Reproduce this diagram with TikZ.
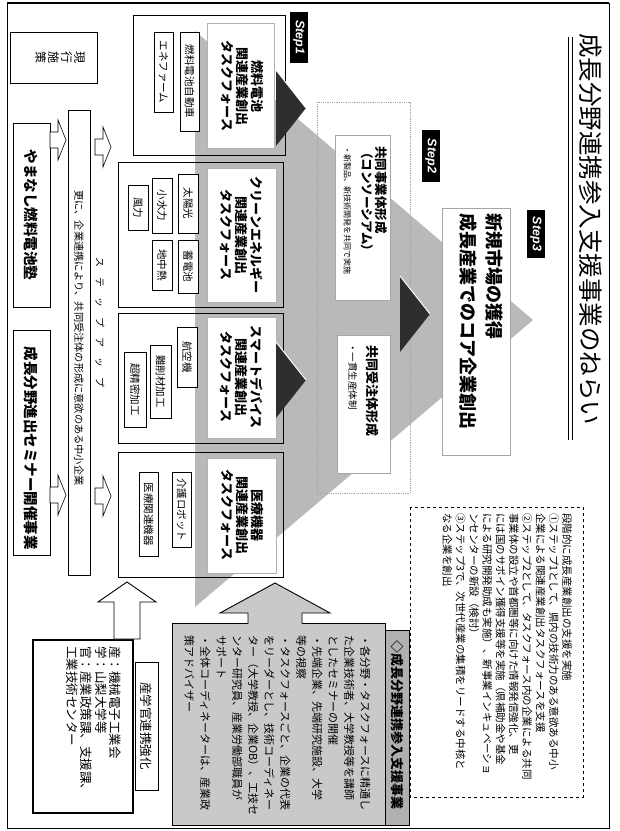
\documentclass[tikz,border=0pt]{standalone}
\usepackage{fontspec}
\setmainfont{Noto Sans CJK JP}
\newfontfamily\stepfont{Liberation Sans}
\newcommand{\fz}[2]{\fontsize{#1}{#2}\selectfont}
\newcommand{\ibox}[6]{%
  \draw[itembox] (#2,#3) rectangle (#4,#5);
  \node[rt,font=\fz{10.5}{11}] (#1) at ({(#2+#4)/2},{(#3+#5)/2}) {#6};}
\newcommand{\sarrow}[4]{%
  \draw[smallarrow] (#2,#4-8) -- (#2+8,#4-8) -- (#2+8,#4-20) -- (#3,#4) -- (#2+8,#4+20) -- (#2+8,#4+8) -- (#2,#4+8) -- cycle;
  \coordinate (#1) at (#3,#4);}
\newcommand{\mini}[4]{%
  \fill[minitri] (#2,#3-38) -- (#2+30,#3) -- (#2,#3+38) -- cycle;
  \draw[miniedge] (#2,#3-38) -- (#2+30,#3);
  \coordinate (#1) at (#2+30,#3);}
\begin{document}
\begin{tikzpicture}[x=1pt,y=-1pt,
  rt/.style={rotate=-90,inner sep=0pt,outer sep=0pt},
  tfouter/.style={draw=black,line width=0.7pt},
  tfinner/.style={fill=white,draw=gray!60,line width=0.8pt},
  itembox/.style={fill=white,draw=black,line width=0.6pt},
  stepbox/.style={fill=black},
  steptext/.style={rt,text=white,font=\stepfont\bfseries\itshape\fz{12.5}{13}},
  pyr/.style={fill=gray!55},
  minitri/.style={fill=black!82},
  miniedge/.style={draw=white,line width=1pt},
  smallarrow/.style={fill=white,draw=black,line width=0.6pt},
  plainbox/.style={fill=white,draw=black,line width=0.7pt},
  softbox/.style={fill=white,draw=gray!70,line width=0.8pt},
  dotframe/.style={draw=gray!70,line width=0.8pt,densely dotted},
  graybox/.style={fill=gray!42,draw=black,line width=0.9pt},
  graytab/.style={fill=gray!62,draw=black,line width=0.9pt},
]
\useasboundingbox (0,0) rectangle (620,831);
\fill[white] (0,0) rectangle (620,831);

% frame
\draw[line width=1pt] (7,3) rectangle (609,828);
\draw[line width=2pt] (7,3) -- (609,3);

% title
\node[rt,anchor=west,font=\fz{24.5}{25}] (title) at (591,33) {成長分野連携参入支援事業のねらい};
\draw[line width=1.3pt] (568.5,37) -- (568.5,440);
\draw[line width=0.6pt] (572.5,37) -- (572.5,440);

% pyramid
\fill[pyr] (195,31) -- (533,320) -- (195,607) -- cycle;

% step2 frame
\draw[dotframe] (317,102) rectangle (410,493);

% task force outer boxes
\draw[tfouter] (133,15) rectangle (285,155);
\draw[tfouter] (118,162) rectangle (283,307);
\draw[tfouter] (118,313) rectangle (283,443);
\draw[tfouter] (118,452) rectangle (283,577);

% task force title boxes
\draw[tfinner] (207,23) rectangle (274,148);
\node[rt,align=center,font=\bfseries\fz{13}{15}] (tf1) at (242,86) {燃料電池\\関連産業創出\\タスクフォース};
\draw[tfinner] (207,168) rectangle (276,302);
\node[rt,align=center,font=\bfseries\fz{13}{15}] (tf2) at (242,235) {クリーンエネルギー\\関連産業創出\\タスクフォース};
\draw[tfinner] (207,317) rectangle (276,438);
\node[rt,align=center,font=\bfseries\fz{13}{15}] (tf3) at (242,377) {スマートデバイス\\関連産業創出\\タスクフォース};
\draw[tfinner] (207,458) rectangle (276,573);
\node[rt,align=center,font=\bfseries\fz{13}{15}] (tf4) at (242,515) {医療機器\\関連産業創出\\タスクフォース};

% items
\ibox{i11}{180}{32}{199}{131}{燃料電池自動車}
\ibox{i12}{154}{32}{173}{112}{エネファーム}
\ibox{i21}{178}{174}{198}{233}{太陽光}
\ibox{i22}{152}{178}{172}{233}{小水力}
\ibox{i23}{128}{185}{148}{230}{風力}
\ibox{i24}{178}{240}{198}{293}{蓄電池}
\ibox{i25}{152}{240}{172}{290}{地中熱}
\ibox{i31}{177}{327}{197}{387}{航空機}
\ibox{i32}{150}{345}{171}{418}{難削材加工}
\ibox{i33}{124}{352}{146}{427}{超精密加工}
\ibox{i41}{172}{472}{191}{547}{介護ロボット}
\ibox{i42}{139}{472}{158}{556}{医療関連機器}

% mini pyramids
\mini{m1}{276}{108}
\mini{m2}{276}{244}
\mini{m3}{276}{380}
\mini{m4}{276}{515}
\mini{m5}{400}{314}

% step2 boxes
\draw[softbox] (335,135) rectangle (390,300);
\node[rt,anchor=north west,align=left,font=\bfseries\fz{12.5}{13.5}] (jv1) at (387,146) {共同事業体形成\\（コンソーシアム）};
\node[rt,anchor=north west,font=\fz{8}{9}] (jv2) at (351,146) {・新製品、新技術開発を共同で実施};
\draw[softbox] (337,335) rectangle (390,473);
\node[rt,anchor=north west,font=\bfseries\fz{13}{14}] (jo1) at (378.5,345) {共同受注体形成};
\node[rt,anchor=north west,font=\fz{9.5}{10}] (jo2) at (357,343) {・一貫生産体制};

% step3 box
\draw[softbox] (442,208) rectangle (510,455);
\node[rt,anchor=north west,align=left,font=\bfseries\fz{18}{26}] (s3t) at (503,213) {新規市場の獲得\\成長産業でのコア企業創出};

% step labels
\fill[stepbox] (527,210) rectangle (545,258);
\node[steptext] (s3) at (536,234) {Step3};
\fill[stepbox] (422,130) rectangle (440,182);
\node[steptext] (s2) at (431,156) {Step2};
\fill[stepbox] (290,12) rectangle (308,63);
\node[steptext] (s1) at (299,37.5) {Step1};

% left column
\draw[plainbox] (10,32) rectangle (97,83);
\node[rt,align=center,font=\fz{12}{13}] (gk) at (60,57) {現\\行\\施\\策};
\draw[plainbox] (13,123) rectangle (50,307);
\node[rt,font=\bfseries\fz{14.5}{15}] (ym) at (31.5,215) {やまなし燃料電池塾};
\draw[plainbox] (13,330) rectangle (50,555);
\node[rt,font=\bfseries\fz{14.5}{15}] (sm) at (31.5,448) {成長分野進出セミナー開催事業};
\draw[plainbox] (68,110) rectangle (90,575);
\node[rt,font=\fz{10.2}{11}] (sr) at (79,338) {更に、企業連携により、共同受注体の形成に意欲のある中小企業};
\node[rt,font=\fz{10}{10}] (su) at (100,322) {ス　テ　ッ　プ　ア　ッ　プ};
\sarrow{a1}{50}{66}{140}
\sarrow{a2}{95}{111}{147}
\sarrow{a3}{50}{66}{495}
\sarrow{a4}{95}{111}{496}

% dashed note
\draw[dashed,line width=0.8pt] (410,507) rectangle (583,797);
\node[rt,anchor=north west,align=left,font=\fz{10.5}{13.3}] (note) at (572,513) {段階的に成長産業創出の支援を実施\\①ステップ1として、県内の技術力のある意欲ある中小\\企業による関連産業創出タスクフォースを支援\\②ステップ2として、タスクフォース内の企業による共同\\事業体の設立や首都圏等に向けた情報発信強化、更\\には国のサポイン獲得支援等を実施（県補助金や基金\\による研究開発助成も実施）、新事業インキュベーショ\\ンセンターの新設（検討）\\③ステップ3で、次世代産業の集積をリードする中核と\\なる企業を創出};

% gray support box
\draw[graybox] (172,623) rectangle (385,825);
\draw[graytab] (385,630) rectangle (409,825);
\node[rt,anchor=north west,font=\bfseries\fz{13}{14}] (gt) at (403.5,640) {◇成長分野連携参入支援事業};
\node[rt,anchor=north west,align=left,font=\fz{11}{16}] (gx) at (370.5,635) {・各分野・タスクフォースに精通し\\た企業技術者、大学教授等を講師\\としたセミナーの開催\\・先端企業、先端研究施設、大学\\等の視察\\・タスクフォースごと、企業の代表\\をリーダーとし、技術コーディネー\\ター（大学教授、企業OB）、工技セ\\ンター研究員、産業労働部職員が\\サポート\\・全体コーディネーターは、産業政\\策アドバイザー};
\fill[gray!42] (248,624) -- (248,613) -- (220,613) -- (275,583) -- (330,613) -- (302,613) -- (302,624) -- cycle;
\draw[line width=0.9pt] (248,623.5) -- (248,613) -- (220,613) -- (275,583) -- (330,613) -- (302,613) -- (302,623.5);
\coordinate (ga) at (275,583);

% industry-academia-government
\draw[line width=2pt,fill=white] (33,640) rectangle (133,813);
\draw[plainbox] (135,662) rectangle (158,790);
\node[rt,font=\fz{12.5}{13}] (sgt) at (146.5,726) {産学官連携強化};
\node[rt,anchor=north west,align=left,font=\fz{12.5}{14.5}] (sg) at (121.5,646) {産：機械電子工業会\\学：山梨大学等\\官：産業政策課、支援課、\\工業技術センター};
\draw[smallarrow,line width=0.9pt] (114,639) -- (114,602) -- (98,602) -- (127,582) -- (156,602) -- (140,602) -- (140,639) -- cycle;
\coordinate (wa) at (127,582);
\end{tikzpicture}
\end{document}
